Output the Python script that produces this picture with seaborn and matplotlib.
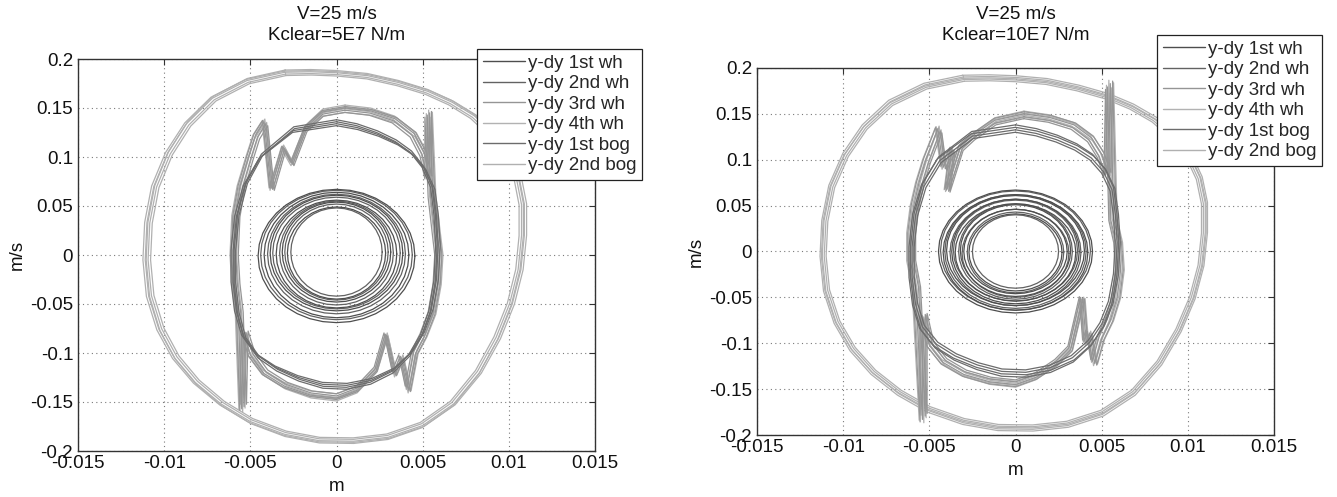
import numpy as np
import pandas as pd
import matplotlib
matplotlib.use("Agg")
import matplotlib.pyplot as plt
from matplotlib.lines import Line2D
from matplotlib.ticker import FixedLocator, FixedFormatter
import seaborn as sns

# ---------------------------------------------------------------- labels
SERIES = ["y-dy 1st wh", "y-dy 2nd wh", "y-dy 3rd wh",
          "y-dy 4th wh", "y-dy 1st bog", "y-dy 2nd bog"]
COLORS = ["#4e4e4e", "#626262", "#959595", "#b2b2b2", "#6c6c6c", "#b0b0b0"]
# back-to-front drawing order
DRAW_ORDER = ["y-dy 2nd bog", "y-dy 4th wh", "y-dy 3rd wh",
              "y-dy 1st bog", "y-dy 2nd wh", "y-dy 1st wh"]

TITLES = ["V=25 m/s\nKclear=5E7 N/m", "V=25 m/s\nKclear=10E7 N/m"]
X_TICKS = [-0.015, -0.01, -0.005, 0, 0.005, 0.01, 0.015]
X_TICK_LABELS = ["-0.015", "-0.01", "-0.005", "0", "0.005", "0.01", "0.015"]
Y_TICKS = [-0.2, -0.15, -0.1, -0.05, 0, 0.05, 0.1, 0.15, 0.2]
Y_TICK_LABELS = ["-0.2", "-0.15", "-0.1", "-0.05", "0", "0.05", "0.1", "0.15", "0.2"]

# ------------------------------------------------- wheelset rings (y, dy)
# outline of one wheelset orbit, normalised to its half-widths
RING_U = [1.000, 0.985, 0.940, 0.866, 0.766, 0.643, 0.500, 0.342, 0.174,
          0.000, -0.174, -0.342, -0.500, -0.643, -0.766, -0.866, -0.940, -0.985,
          -1.000, -0.985, -0.940, -0.866, -0.766, -0.643, -0.500, -0.342, -0.174,
          0.000, 0.174, 0.342, 0.500, 0.643, 0.766, 0.866, 0.940, 0.985]
RING_V = [0.000, 0.174, 0.342, 0.500, 0.643, 0.766, 0.866, 0.940, 0.985,
          1.000, 0.985, 0.940, 0.866, 0.766, 0.643, 0.500, 0.342, 0.174,
          0.000, -0.174, -0.342, -0.500, -0.643, -0.766, -0.866, -0.940, -0.985,
          -1.000, -0.985, -0.940, -0.866, -0.766, -0.643, -0.500, -0.342, -0.174]

# half-widths of successive orbits, Kclear = 5E7
WH1_RX_5E7 = [0.00455, 0.00420, 0.00385, 0.00350, 0.00315, 0.00285]
WH1_RY_5E7 = [0.068, 0.064, 0.059, 0.055, 0.051, 0.047]
WH1_CY_5E7 = [-0.001, 0.000, 0.002, 0.001, 0.003, 0.002]
WH2_RX_5E7 = [0.00440, 0.00400, 0.00370, 0.00330, 0.00300, 0.00265]
WH2_RY_5E7 = [0.066, 0.061, 0.057, 0.053, 0.049, 0.045]
WH2_CY_5E7 = [0.000, 0.001, 0.002, 0.002, 0.003, 0.003]
# Kclear = 10E7
WH1_RX_10E7 = [0.00447, 0.00420, 0.00400, 0.00370, 0.00350, 0.00320, 0.00300, 0.00270]
WH1_RY_10E7 = [0.067, 0.063, 0.060, 0.057, 0.053, 0.050, 0.046, 0.042]
WH1_CY_10E7 = [0.000, -0.001, 0.001, 0.000, -0.001, 0.001, 0.000, -0.001]
WH2_RX_10E7 = [0.00435, 0.00410, 0.00380, 0.00360, 0.00330, 0.00310, 0.00280, 0.00250]
WH2_RY_10E7 = [0.065, 0.062, 0.058, 0.055, 0.052, 0.048, 0.044, 0.040]
WH2_CY_10E7 = [0.001, 0.000, -0.001, 0.001, 0.000, -0.002, -0.001, 0.000]

# ---------------------------------------------- 1st bogie orbit outline
BOG1_X = [0.0000, 0.0012, 0.0024, 0.0035, 0.0044, 0.0051, 0.0056, 0.0058, 0.0059, 0.0058,
          0.0055, 0.0050, 0.0043, 0.0033, 0.0020, 0.0006, -0.0008, -0.0022, -0.0035, -0.0046,
          -0.0054, -0.0058, -0.0060, -0.0060, -0.0058, -0.0053, -0.0044, -0.0025]
BOG1_Y = [0.1340, 0.1300, 0.1230, 0.1140, 0.1030, 0.0880, 0.0680, 0.0400, 0.0100, -0.0250,
          -0.0560, -0.0800, -0.1000, -0.1170, -0.1280, -0.1330, -0.1320, -0.1250, -0.1150, -0.1020,
          -0.0830, -0.0580, -0.0280, 0.0050, 0.0400, 0.0720, 0.1000, 0.1270]
BOG1_SX_5E7 = [1.000, 0.975, 1.020, 0.990]
BOG1_SY_5E7 = [1.000, 1.015, 0.985, 1.030]
BOG1_SX_10E7 = [1.000, 1.030, 0.980, 1.015]
BOG1_SY_10E7 = [0.990, 1.010, 0.970, 1.030]

# ------------------------------- rear wheelset orbits with flange contacts
MID_X_5E7 = [0.0005, 0.0020, 0.0034, 0.0045, 0.0051, 0.0054, 0.0054, 0.0056, 0.0058, 0.0060,
             0.0059, 0.0056, 0.0051, 0.0046, 0.0042, 0.0038, 0.0034, 0.0029, 0.0023, 0.0012,
             0.0000, -0.0015, -0.0030, -0.0042, -0.0050, -0.0054, -0.0055, -0.0057, -0.0059, -0.0060,
             -0.0059, -0.0056, -0.0051, -0.0047, -0.0042, -0.0038, -0.0031, -0.0026, -0.0018, -0.0008]
MID_Y_5E7 = [0.150, 0.147, 0.139, 0.124, 0.104, 0.080, 0.145, 0.060, 0.030, 0.000,
             -0.030, -0.060, -0.083, -0.100, -0.138, -0.105, -0.122, -0.082, -0.118, -0.138,
             -0.146, -0.143, -0.134, -0.121, -0.102, -0.080, -0.157, -0.060, -0.030, 0.000,
             0.040, 0.070, 0.100, 0.122, 0.136, 0.068, 0.110, 0.094, 0.130, 0.146]
MID_X_10E7 = [0.0005, 0.0020, 0.0034, 0.0044, 0.0050, 0.0054, 0.0055, 0.0057, 0.0060, 0.0061,
              0.0059, 0.0055, 0.0050, 0.0046, 0.0043, 0.0041, 0.0039, 0.0032, 0.0024, 0.0012,
              0.0000, -0.0015, -0.0030, -0.0042, -0.0050, -0.0054, -0.0054, -0.0058, -0.0061, -0.0061,
              -0.0059, -0.0056, -0.0052, -0.0045, -0.0042, -0.0037, -0.0040, -0.0032, -0.0025, -0.0012]
MID_Y_10E7 = [0.150, 0.146, 0.138, 0.124, 0.106, 0.085, 0.183, 0.035, 0.010, -0.020,
              -0.050, -0.075, -0.095, -0.122, -0.089, -0.100, -0.051, -0.107, -0.122, -0.137,
              -0.145, -0.142, -0.134, -0.121, -0.102, -0.070, -0.183, -0.040, -0.010, 0.020,
              0.050, 0.075, 0.100, 0.134, 0.092, 0.112, 0.067, 0.114, 0.126, 0.143]
WH3_SX_5E7 = [1.000, 0.975, 1.020, 0.950]
WH3_SY_5E7 = [1.000, 0.985, 1.010, 0.970]
WH4_SX_5E7 = [0.990, 1.015, 0.965, 1.030]
WH4_SY_5E7 = [1.020, 0.970, 0.995, 1.005]
WH3_SX_10E7 = [1.000, 0.970, 1.025, 0.950]
WH3_SY_10E7 = [1.000, 0.980, 1.015, 0.965]
WH4_SX_10E7 = [0.985, 1.015, 0.960, 1.035]
WH4_SY_10E7 = [1.020, 0.975, 0.990, 1.005]

# ---------------------------------------------- 2nd bogie orbit outline
BOG2_X = [-0.0030, -0.0015, 0.0000, 0.0018, 0.0036, 0.0053, 0.0067, 0.0080, 0.0091, 0.0100,
          0.0106, 0.0109, 0.0109, 0.0107, 0.0102, 0.0094, 0.0083, 0.0068, 0.0050, 0.0030,
          0.0010, -0.0010, -0.0030, -0.0050, -0.0067, -0.0082, -0.0094, -0.0103, -0.0109, -0.0111,
          -0.0110, -0.0106, -0.0098, -0.0087, -0.0072, -0.0052]
BOG2_Y = [0.1865, 0.1870, 0.1860, 0.1830, 0.1760, 0.1670, 0.1560, 0.1420, 0.1240, 0.1030,
          0.0790, 0.0520, 0.0200, -0.0150, -0.0500, -0.0850, -0.1200, -0.1520, -0.1740, -0.1860,
          -0.1900, -0.1895, -0.1830, -0.1700, -0.1520, -0.1300, -0.1050, -0.0760, -0.0420, -0.0050,
          0.0330, 0.0700, 0.1040, 0.1340, 0.1600, 0.1780]
BOG2_SX_5E7 = [1.000, 0.985, 1.012, 0.972, 0.995]
BOG2_SY_5E7 = [1.000, 0.990, 1.006, 0.982, 1.012]
BOG2_SX_10E7 = [1.010, 1.000, 1.022, 0.990, 1.015]
BOG2_SY_10E7 = [1.020, 1.005, 1.030, 0.995, 1.012]


def ring_frames(name, rx, ry, cy):
    frames = []
    for k, (a, b, c) in enumerate(zip(rx, ry, cy)):
        u = np.r_[RING_U, RING_U[0]]
        v = np.r_[RING_V, RING_V[0]]
        frames.append(pd.DataFrame({"x": a * u, "y": b * v + c,
                                    "series": name, "cycle": k}))
    return frames


def loop_frames(name, bx, by, sx, sy):
    frames = []
    for k, (a, b) in enumerate(zip(sx, sy)):
        u = np.r_[bx, bx[0]]
        v = np.r_[by, by[0]]
        frames.append(pd.DataFrame({"x": a * u, "y": b * v,
                                    "series": name, "cycle": k}))
    return frames


def panel_data(tag):
    g = globals()
    frames = []
    frames += ring_frames("y-dy 1st wh", g[f"WH1_RX_{tag}"], g[f"WH1_RY_{tag}"], g[f"WH1_CY_{tag}"])
    frames += ring_frames("y-dy 2nd wh", g[f"WH2_RX_{tag}"], g[f"WH2_RY_{tag}"], g[f"WH2_CY_{tag}"])
    frames += loop_frames("y-dy 3rd wh", g[f"MID_X_{tag}"], g[f"MID_Y_{tag}"],
                          g[f"WH3_SX_{tag}"], g[f"WH3_SY_{tag}"])
    frames += loop_frames("y-dy 4th wh", g[f"MID_X_{tag}"], g[f"MID_Y_{tag}"],
                          g[f"WH4_SX_{tag}"], g[f"WH4_SY_{tag}"])
    frames += loop_frames("y-dy 1st bog", BOG1_X, BOG1_Y,
                          g[f"BOG1_SX_{tag}"], g[f"BOG1_SY_{tag}"])
    frames += loop_frames("y-dy 2nd bog", BOG2_X, BOG2_Y,
                          g[f"BOG2_SX_{tag}"], g[f"BOG2_SY_{tag}"])
    return pd.concat(frames, ignore_index=True)


sns.set_style("white")
plt.rcParams["font.family"] = ["Liberation Sans", "DejaVu Sans"]
plt.rcParams["axes.unicode_minus"] = False

FS = 13.5
PALETTE = dict(zip(SERIES, COLORS))

W, H = 1337, 497
fig = plt.figure(figsize=(W / 100, H / 100), dpi=100)
fig.patch.set_facecolor("white")

# axes boxes in pixels: left, top, right, bottom
BOXES = [(78, 59, 595, 451), (757, 68, 1274, 435)]
LEGEND_ANCHORS = [(477, 49), (1157, 35)]
TITLE_PADS = [13.5, 20]

for i, tag in enumerate(["5E7", "10E7"]):
    l, t, r, b = BOXES[i]
    ax = fig.add_axes([l / W, 1 - b / H, (r - l) / W, (b - t) / H])
    df = panel_data(tag)
    sns.lineplot(data=df, x="x", y="y", hue="series", hue_order=DRAW_ORDER,
                 palette=PALETTE, units="cycle", estimator=None, sort=False,
                 linewidth=0.9, legend=False, ax=ax)

    ax.set_xlim(-0.015, 0.015)
    ax.set_ylim(-0.2, 0.2)
    ax.xaxis.set_major_locator(FixedLocator(X_TICKS))
    ax.xaxis.set_major_formatter(FixedFormatter(X_TICK_LABELS))
    ax.yaxis.set_major_locator(FixedLocator(Y_TICKS))
    ax.yaxis.set_major_formatter(FixedFormatter(Y_TICK_LABELS))
    ax.tick_params(direction="in", length=4, width=0.8, color="#333333",
                   top=True, right=True, labelsize=FS, labelcolor="#111111")
    ax.tick_params(axis="y", pad=3.5)
    ax.tick_params(axis="x", pad=3)
    ax.grid(True, color="#7a7a7a", linestyle=(0, (1, 3)), linewidth=0.8)
    for s in ax.spines.values():
        s.set_color("#333333")
        s.set_linewidth(1.0)
    ax.set_xlabel("m", fontsize=FS, color="#111111", labelpad=4)
    ax.set_ylabel("m/s", fontsize=FS, color="#111111", labelpad=3)
    ax.set_title(TITLES[i], fontsize=FS, color="#111111", linespacing=1.3,
                 pad=TITLE_PADS[i])

    handles = [Line2D([], [], color=PALETTE[s], linewidth=1.0) for s in SERIES]
    lx, ly = LEGEND_ANCHORS[i]
    leg = ax.legend(handles, SERIES, loc="upper left",
                    bbox_to_anchor=(lx / W, 1 - ly / H), bbox_transform=fig.transFigure,
                    frameon=True, fancybox=False, framealpha=1, edgecolor="#222222",
                    fontsize=FS, borderpad=0.3, labelspacing=0.18, handlelength=2.24,
                    handletextpad=0.16, borderaxespad=0)
    leg.get_frame().set_linewidth(0.9)

fig.savefig("out.png", dpi=100, facecolor="white")
